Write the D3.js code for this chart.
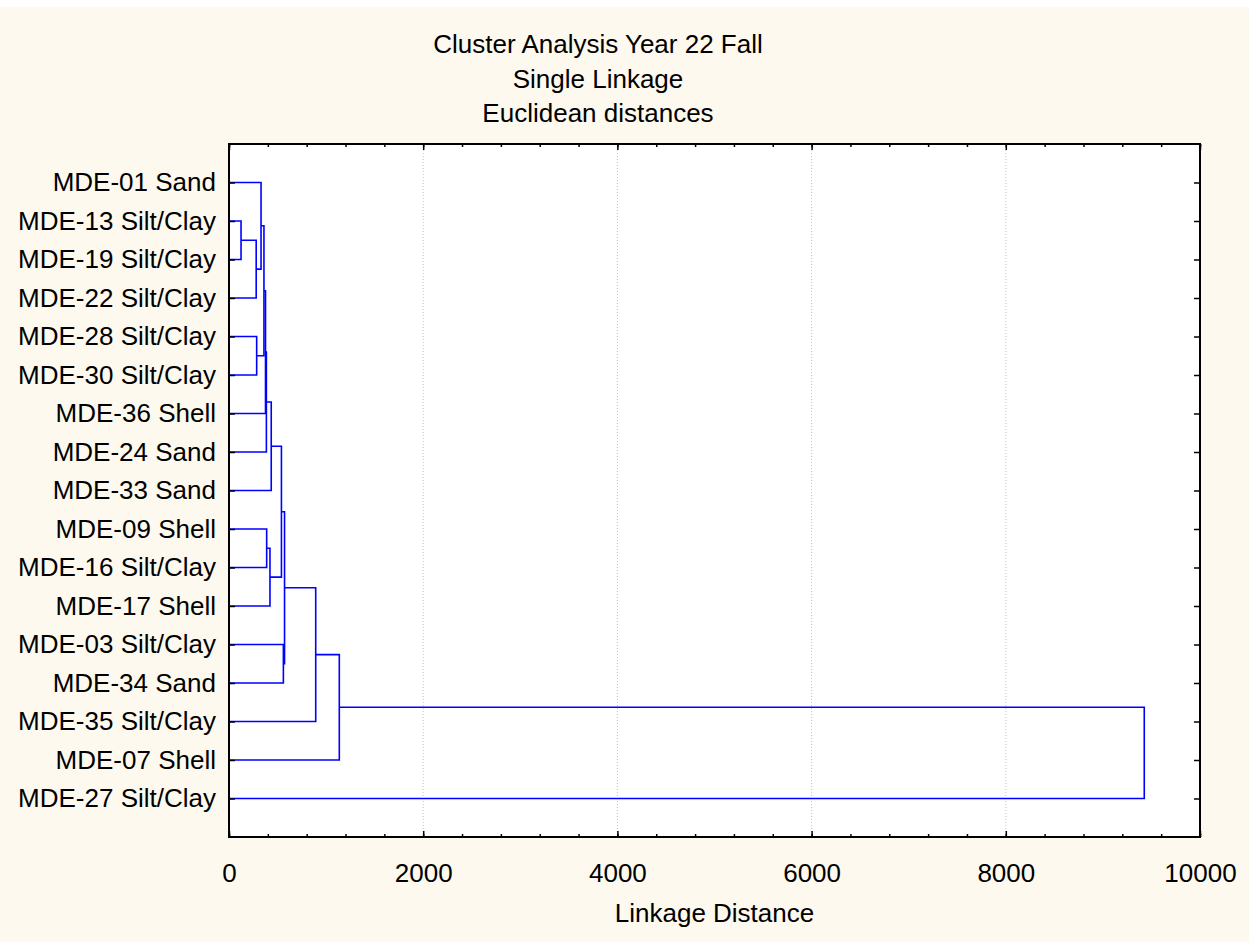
<!DOCTYPE html>
<html>
<head>
<meta charset="utf-8">
<script src="https://cdn.jsdelivr.net/npm/d3@7"></script>
<style>
  html, body { margin: 0; padding: 0; background: #ffffff; }
  svg { display: block; }
  text { font-family: "Liberation Sans", Arial, sans-serif; fill: #000; }
</style>
</head>
<body>
<svg id="chart" width="1249" height="942"></svg>
<script>
// ---- data ----
const titleLines = ["Cluster Analysis Year 22 Fall", "Single Linkage", "Euclidean distances"];
const xAxisTitle = "Linkage Distance";
const leaves = [
  "MDE-01 Sand", "MDE-13 Silt/Clay", "MDE-19 Silt/Clay", "MDE-22 Silt/Clay",
  "MDE-28 Silt/Clay", "MDE-30 Silt/Clay", "MDE-36 Shell", "MDE-24 Sand",
  "MDE-33 Sand", "MDE-09 Shell", "MDE-16 Silt/Clay", "MDE-17 Shell",
  "MDE-03 Silt/Clay", "MDE-34 Sand", "MDE-35 Silt/Clay", "MDE-07 Shell",
  "MDE-27 Silt/Clay"
];
// merges: [child A, child B] (0..16 = leaves, 17+ = earlier merges), height
const mergeLeft   = [1, 17, 4, 0, 20, 21, 22, 23, 9, 25, 24, 12, 27, 29, 30, 31];
const mergeRight  = [2, 3, 5, 18, 19, 6, 7, 8, 10, 11, 26, 13, 28, 14, 15, 16];
const mergeHeight = [124, 280, 285, 330, 360, 376, 385, 435, 388, 422, 540, 560, 572, 893, 1136, 9426];
const majorTicks = [0, 2000, 4000, 6000, 8000, 10000];
const gridTicks = [2000, 4000, 6000, 8000];

// ---- layout ----
const W = 1249, H = 942;
const L = 229, R = 1200, T = 144, B = 837;
const FS = 26;
const svg = d3.select("#chart");

svg.append("rect").attr("x", 0).attr("y", 7).attr("width", W).attr("height", H - 7).attr("fill", "#fdf9ee");
svg.append("rect").attr("x", L).attr("y", T).attr("width", R - L).attr("height", B - T).attr("fill", "#ffffff");

const x = d3.scaleLinear().domain([0, 10000]).range([L, R]);
const y = d3.scalePoint().domain(d3.range(leaves.length)).range([T, B]).padding(1);

// grid
svg.append("g").selectAll("line").data(gridTicks).join("line")
  .attr("x1", d => x(d)).attr("x2", d => x(d)).attr("y1", T).attr("y2", B)
  .attr("stroke", "#c4c4c4").attr("stroke-width", 1).attr("stroke-dasharray", "1,2");

// dendrogram
const nodeY = leaves.map((d, i) => y(i));
const nodeH = leaves.map(() => 0);
const paths = [];
mergeHeight.forEach((h, k) => {
  const a = mergeLeft[k], b = mergeRight[k];
  paths.push({a, b, h, ya: nodeY[a], yb: nodeY[b], ha: nodeH[a], hb: nodeH[b]});
  nodeY.push((nodeY[a] + nodeY[b]) / 2);
  nodeH.push(h);
});
svg.append("g").selectAll("path").data(paths).join("path")
  .attr("d", p => `M${x(p.ha)},${p.ya}H${x(p.h)}V${p.yb}H${x(p.hb)}`)
  .attr("fill", "none").attr("stroke", "#0000ff").attr("stroke-width", 1.6);

// axes (ticks inward)
const minorVals = d3.range(0, 10001, 400);
function styleAxis(g) {
  g.select(".domain").remove();
  g.selectAll(".tick line").attr("stroke", "#000").attr("stroke-width", 1.5);
}
svg.append("g").attr("transform", `translate(0,${B})`)
  .call(d3.axisBottom(x).tickValues(minorVals).tickSize(-3).tickFormat("")).call(styleAxis);
svg.append("g").attr("transform", `translate(0,${T})`)
  .call(d3.axisTop(x).tickValues(minorVals).tickSize(-3).tickFormat("")).call(styleAxis);
svg.append("g").attr("transform", `translate(0,${B})`)
  .call(d3.axisBottom(x).tickValues(majorTicks).tickSize(-6).tickPadding(27).tickFormat(d3.format("d")))
  .call(styleAxis)
  .call(g => g.selectAll("text").attr("font-size", FS).attr("font-family", "Liberation Sans, Arial, sans-serif").attr("fill", "#000"));
svg.append("g").attr("transform", `translate(0,${T})`)
  .call(d3.axisTop(x).tickValues(majorTicks).tickSize(-6).tickFormat("")).call(styleAxis);

svg.append("g").attr("transform", `translate(${L},0)`)
  .call(d3.axisLeft(y).tickSize(-6).tickPadding(13).tickFormat(i => leaves[i]))
  .call(styleAxis)
  .call(g => g.selectAll("text").attr("font-size", FS).attr("font-family", "Liberation Sans, Arial, sans-serif").attr("fill", "#000"));
svg.append("g").attr("transform", `translate(${R},0)`)
  .call(d3.axisRight(y).tickSize(-6).tickFormat("")).call(styleAxis);

// frame
svg.append("rect").attr("x", L).attr("y", T).attr("width", R - L).attr("height", B - T)
  .attr("fill", "none").attr("stroke", "#000").attr("stroke-width", 2);

// titles
svg.append("g").selectAll("text").data(titleLines).join("text")
  .attr("x", 598).attr("y", (d, i) => 53 + i * 34.5)
  .attr("text-anchor", "middle").attr("font-size", FS).text(d => d);
svg.append("text").attr("x", (L + R) / 2).attr("y", 922)
  .attr("text-anchor", "middle").attr("font-size", FS).text(xAxisTitle);
</script>
</body>
</html>
